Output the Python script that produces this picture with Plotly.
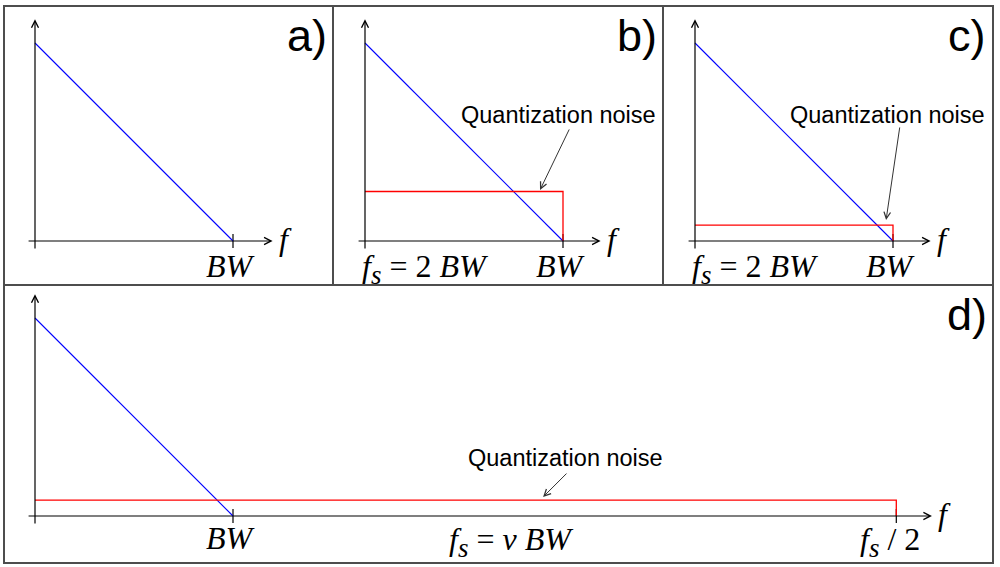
import plotly.graph_objects as go

# ---------------- data ----------------
BW = 1.0
signal_f = [0.0, BW]          # signal spectrum: frequency points
signal_amp = [1.0, 0.0]       # signal spectrum: amplitude
noise_level_b = 0.25          # quantization noise level, Nyquist rate
noise_level_c = 0.08          # quantization noise level, c)
noise_level_d = 0.08          # quantization noise level, oversampled
fs_half_d = 4.35              # fs/2 in units of BW for d)

panel_names = ["a)", "b)", "c)", "d)"]
axis_end = [1.2, 1.19, 1.19, 4.53]

# ---------------- layout helpers (pixels) ----------------
W, H = 1000, 567
S = 198.0  # px per data unit
# box (left, right, top, bottom) and origin (ox, oy) in pixels
boxes = [(4, 333, 6, 285), (333, 663, 6, 285), (663, 993, 6, 285), (4, 993, 285, 563)]
origins = [(35, 241), (365, 241), (695, 241), (35, 516)]

fig = go.Figure()
layout = dict(width=W, height=H, margin=dict(l=0, r=0, t=0, b=0),
              paper_bgcolor="white", plot_bgcolor="white", showlegend=False)
shapes, annots = [], []

def px(x):
    return x / W

def py(y):
    return 1 - y / H

SERIF = "Liberation Serif"
SANS = "Liberation Sans"
MATH = 32
FS = "<i>f</i><sub><span style='font-size:27px'><i>s</i></span></sub>"

for i, ((l, r, t, b), (ox, oy)) in enumerate(zip(boxes, origins)):
    n = "" if i == 0 else str(i + 1)
    xa, ya = "x" + n, "y" + n
    layout["xaxis" + n] = dict(domain=[px(l), px(r)], range=[-(ox - l) / S, (r - ox) / S],
                               visible=False, anchor=ya, fixedrange=True)
    layout["yaxis" + n] = dict(domain=[py(b), py(t)], range=[-(b - oy) / S, (oy - t) / S],
                               visible=False, anchor=xa, fixedrange=True)
    # panel border
    shapes.append(dict(type="rect", xref=xa + " domain", yref=ya + " domain", x0=0, x1=1, y0=0, y1=1,
                       line=dict(color="#4d4d4d", width=2)))
    # axes with open arrowheads
    annots.append(dict(xref=xa, yref=ya, axref=xa, ayref=ya, x=axis_end[i], y=0, ax=-0.04, ay=0,
                       text="", showarrow=True, arrowhead=5, arrowwidth=1.2, arrowsize=1.15,
                       arrowcolor="black"))
    annots.append(dict(xref=xa, yref=ya, axref=xa, ayref=ya, x=0, y=1.12, ax=0, ay=-0.045,
                       text="", showarrow=True, arrowhead=5, arrowwidth=1.2, arrowsize=1.15,
                       arrowcolor="black"))
    # ticks
    tick_x = [BW] if i < 3 else [BW, fs_half_d]
    tx, ty = [], []
    for v in tick_x:
        tx += [v, v, None]
        ty += [-0.035, 0.035, None]
    fig.add_trace(go.Scatter(x=tx, y=ty, mode="lines", line=dict(color="black", width=1.2),
                             xaxis=xa, yaxis=ya, hoverinfo="skip"))
    # signal
    fig.add_trace(go.Scatter(x=signal_f, y=signal_amp, mode="lines",
                             line=dict(color="#0000ff", width=1.1), xaxis=xa, yaxis=ya))
    # noise
    if i > 0:
        lvl = [None, noise_level_b, noise_level_c, noise_level_d][i]
        fend = BW if i < 3 else fs_half_d
        fig.add_trace(go.Scatter(x=[0, fend, fend], y=[lvl, lvl, 0], mode="lines",
                                 line=dict(color="#ff0000", width=1.3), xaxis=xa, yaxis=ya))
    # panel letter
    annots.append(dict(xref="paper", yref="paper", x=px(r - 26), y=py(t + 29), text=panel_names[i],
                       showarrow=False, font=dict(family=SANS, size=45, color="black"),
                       xanchor="center", yanchor="middle"))
    # f label
    fx = axis_end[i] * S + ox + 13
    annots.append(dict(xref="paper", yref="paper", x=px(fx), y=py(oy - 2), text="<i>f</i>",
                       showarrow=False, font=dict(family=SERIF, size=MATH, color="black"),
                       xanchor="center", yanchor="middle"))
    # BW label
    annots.append(dict(xref="paper", yref="paper", x=px(ox + BW * S - 2), y=py(oy + (25 if i < 3 else 22)),
                       text="<i>BW</i>", showarrow=False,
                       font=dict(family=SERIF, size=MATH, color="black"),
                       xanchor="center", yanchor="middle"))

# fs labels
fs_lab = FS + " = 2 <i>BW</i>"
for (ox, oy) in origins[1:3]:
    annots.append(dict(xref="paper", yref="paper", x=px(ox + 60), y=py(oy + 28), text=fs_lab,
                       showarrow=False, font=dict(family=SERIF, size=MATH, color="black"),
                       xanchor="center", yanchor="middle"))
annots.append(dict(xref="paper", yref="paper", x=px(511), y=py(542),
                   text=FS + " = <i>ν</i> <i>BW</i>", showarrow=False,
                   font=dict(family=SERIF, size=MATH, color="black"), xanchor="center", yanchor="middle"))
annots.append(dict(xref="paper", yref="paper", x=px(890), y=py(542),
                   text=FS + " / 2", showarrow=False,
                   font=dict(family=SERIF, size=MATH, color="black"), xanchor="center", yanchor="middle"))

# quantization noise labels and arrows (data coords: tail -> head)
qn = [("x2", "y2", (558, 115), (1.035, 0.571), (0.884, 0.258)),
      ("x3", "y3", (887, 115), (1.035, 0.581), (0.965, 0.106)),
      ("x4", "y4", (565, 458), (2.692, 0.222), (2.566, 0.096))]
for xa, ya, (tx, tyy), tail, head in qn:
    annots.append(dict(xref="paper", yref="paper", x=px(tx), y=py(tyy), text="Quantization noise",
                       showarrow=False, font=dict(family=SANS, size=23.5, color="black"),
                       xanchor="center", yanchor="middle"))
    annots.append(dict(xref=xa, yref=ya, axref=xa, ayref=ya, x=head[0], y=head[1],
                       ax=tail[0], ay=tail[1], text="", showarrow=True, arrowhead=5,
                       arrowwidth=1, arrowsize=1.3, arrowcolor="#333333"))

layout["shapes"] = shapes
layout["annotations"] = annots
fig.update_layout(**layout)
fig.write_html("out.html", config={"displayModeBar": False, "staticPlot": True},
               post_script="document.body.style.margin='0';document.body.style.overflow='hidden';")
